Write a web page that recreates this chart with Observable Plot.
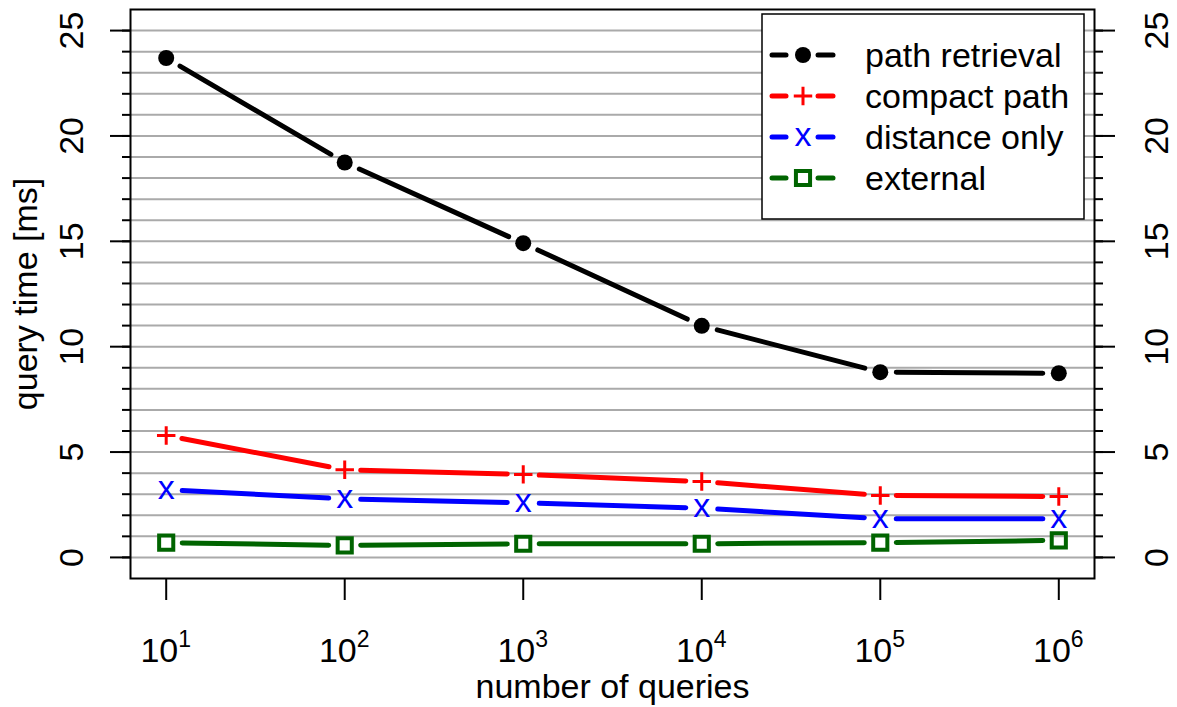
<!DOCTYPE html>
<html>
<head>
<meta charset="utf-8">
<script src="https://cdn.jsdelivr.net/npm/d3@7"></script>
<script src="https://cdn.jsdelivr.net/npm/@observablehq/plot@0.6"></script>
<style>
  body { margin: 0; background: #fff; }
  #chart { position: relative; width: 1177px; height: 707px; }
  #legend { position: absolute; left: 0; top: 0; }
</style>
</head>
<body>
<div id="chart"></div>
<script>
// Query counts (x) and measured query times in ms for each variant
const queries = [1e1, 1e2, 1e3, 1e4, 1e5, 1e6];
const pathRetrieval = [23.7, 18.74, 14.91, 10.99, 8.79, 8.74];
const compactPath = [5.79, 4.16, 3.94, 3.60, 2.94, 2.89];
const distanceOnly = [3.21, 2.78, 2.59, 2.34, 1.84, 1.84];
const external = [0.70, 0.57, 0.65, 0.65, 0.70, 0.81];

const seriesNames = ["path retrieval", "compact path", "distance only", "external"];
const seriesValues = [pathRetrieval, compactPath, distanceOnly, external];
const seriesColors = ["black", "red", "blue", "darkgreen"];

const yMajorTicks = [0, 5, 10, 15, 20, 25];
const yMinorTicks = d3.range(0, 26);
const xExponents = ["1", "2", "3", "4", "5", "6"];

const W = 1177, H = 707;
const mL = 130, mR = 83, mT = 9, mB = 129;
const xDomain = [10 ** 0.8, 10 ** 6.2];
const yDomain = [-1, 26];
const font = "'Liberation Sans', Arial, Helvetica, sans-serif";

// Long-format rows for the markers
const rows = seriesNames.flatMap((name, s) =>
  queries.map((q, i) => ({series: name, q, t: seriesValues[s][i]})));

// Scales used to cut the connecting segments short of each marker (type "b" look)
const xs = Plot.scale({x: {type: "log", domain: xDomain, range: [mL, W - mR]}});
const ys = Plot.scale({y: {type: "linear", domain: yDomain, range: [H - mB, mT]}});
const gap = 16;
const segments = [];
seriesNames.forEach((name, s) => {
  const v = seriesValues[s];
  for (let i = 0; i < queries.length - 1; ++i) {
    const ax = xs.apply(queries[i]), ay = ys.apply(v[i]);
    const bx = xs.apply(queries[i + 1]), by = ys.apply(v[i + 1]);
    const len = Math.hypot(bx - ax, by - ay);
    const ux = (bx - ax) / len, uy = (by - ay) / len;
    segments.push({
      series: name,
      x1: xs.invert(ax + ux * gap), y1: ys.invert(ay + uy * gap),
      x2: xs.invert(bx - ux * gap), y2: ys.invert(by - uy * gap)
    });
  }
});

const bySeries = (name) => rows.filter((d) => d.series === name);
const segOf = (name) => segments.filter((d) => d.series === name);

const plusR = 6;          // radius option for the thin "+" symbol
const plusSize = Math.PI * plusR * plusR;

const plot = Plot.plot({
  width: W,
  height: H,
  marginLeft: mL,
  marginRight: mR,
  marginTop: mT,
  marginBottom: mB,
  style: {fontFamily: font, fontSize: "34px", background: "white", color: "black", overflow: "visible"},
  x: {type: "log", domain: xDomain, label: null},
  y: {type: "linear", domain: yDomain, label: null},
  marks: [
    Plot.gridY(yMinorTicks, {stroke: "#aaaaaa", strokeOpacity: 1, strokeWidth: 2}),
    Plot.axisY(yMinorTicks, {anchor: "left", tickSize: 8, strokeWidth: 2, tickFormat: () => "", label: null}),
    Plot.axisY(yMajorTicks, {anchor: "left", tickSize: 20, strokeWidth: 2, tickFormat: () => "", label: null}),
    Plot.axisY(yMinorTicks, {anchor: "right", tickSize: 8, strokeWidth: 2, tickFormat: () => "", label: null}),
    Plot.axisY(yMajorTicks, {anchor: "right", tickSize: 20, strokeWidth: 2, tickFormat: () => "", label: null}),
    Plot.axisX(queries, {anchor: "bottom", tickSize: 22, strokeWidth: 2, tickFormat: () => "", label: null}),
    // rotated y tick labels on both sides
    Plot.text(yMajorTicks, {y: (d) => d, text: (d) => String(d), frameAnchor: "left", rotate: -90,
      textAnchor: "middle", lineAnchor: "bottom", dx: -48, fontSize: 34}),
    Plot.text(yMajorTicks, {y: (d) => d, text: (d) => String(d), frameAnchor: "right", rotate: -90,
      textAnchor: "middle", lineAnchor: "bottom", dx: 73, fontSize: 34}),
    // x tick labels as 10 with a raised exponent
    Plot.text(queries, {x: (d) => d, text: () => "10", frameAnchor: "bottom", textAnchor: "end",
      lineAnchor: "bottom", dx: 12, dy: 83, fontSize: 34}),
    Plot.text(queries, {x: (d) => d, text: (d, i) => xExponents[i], frameAnchor: "bottom", textAnchor: "start",
      lineAnchor: "bottom", dx: 12, dy: 68, fontSize: 23}),
    Plot.text(["number of queries"], {text: (d) => d, frameAnchor: "bottom", lineAnchor: "bottom", dy: 119, fontSize: 34}),
    Plot.text(["query time [ms]"], {text: (d) => d, frameAnchor: "left", rotate: -90, textAnchor: "middle",
      lineAnchor: "bottom", dx: -94, fontSize: 34}),
    // connecting segments
    ...seriesNames.map((name, s) => Plot.link(segOf(name), {
      x1: "x1", y1: "y1", x2: "x2", y2: "y2",
      stroke: seriesColors[s], strokeWidth: 5, strokeLinecap: "round"
    })),
    // markers
    Plot.dot(bySeries(seriesNames[0]), {x: "q", y: "t", r: 8, fill: seriesColors[0], stroke: null}),
    Plot.dot(bySeries(seriesNames[1]), {x: "q", y: "t", r: plusR, symbol: "plus", stroke: seriesColors[1], strokeWidth: 3}),
    Plot.text(bySeries(seriesNames[2]), {x: "q", y: "t", text: () => "x", fill: seriesColors[2], fontSize: 34,
      lineAnchor: "middle", dy: -2}),
    Plot.dot(bySeries(seriesNames[3]), {x: "q", y: "t", r: 9, symbol: "square2", stroke: seriesColors[3], strokeWidth: 4, fill: "none"}),
    Plot.frame({stroke: "black", strokeWidth: 2})
  ]
});
document.getElementById("chart").append(plot);

// Legend box in the upper right corner of the panel
const leg = d3.select("#chart").append("svg")
  .attr("id", "legend").attr("width", W).attr("height", H)
  .style("font-family", font).style("font-size", "34px");
leg.append("rect")
  .attr("x", 762).attr("y", 14).attr("width", 322).attr("height", 205)
  .attr("fill", "white").attr("stroke", "black").attr("stroke-width", 1.5);
seriesNames.forEach((name, s) => {
  const cy = 55 + s * 41;
  const g = leg.append("g");
  [[772, 786], [818, 833]].forEach(([a, b]) => {
    g.append("line").attr("x1", a).attr("x2", b).attr("y1", cy).attr("y2", cy)
      .attr("stroke", seriesColors[s]).attr("stroke-width", 5).attr("stroke-linecap", "round");
  });
  if (s === 0) {
    g.append("circle").attr("cx", 803).attr("cy", cy).attr("r", 8).attr("fill", seriesColors[s]);
  } else if (s === 1) {
    g.append("path").attr("d", d3.symbol(d3.symbolPlus, plusSize)())
      .attr("transform", `translate(803,${cy})`).attr("fill", "none")
      .attr("stroke", seriesColors[s]).attr("stroke-width", 3);
  } else if (s === 2) {
    g.append("text").attr("x", 803).attr("y", cy).attr("dy", "0.26em").attr("text-anchor", "middle")
      .attr("fill", seriesColors[s]).text("x");
  } else {
    g.append("path").attr("d", d3.symbol(d3.symbolSquare2, Math.PI * 9 * 9)())
      .attr("transform", `translate(803,${cy})`).attr("fill", "none")
      .attr("stroke", seriesColors[s]).attr("stroke-width", 4);
  }
  g.append("text").attr("x", 865).attr("y", cy).attr("dy", "0.35em").attr("fill", "black").text(name);
});
</script>
</body>
</html>
